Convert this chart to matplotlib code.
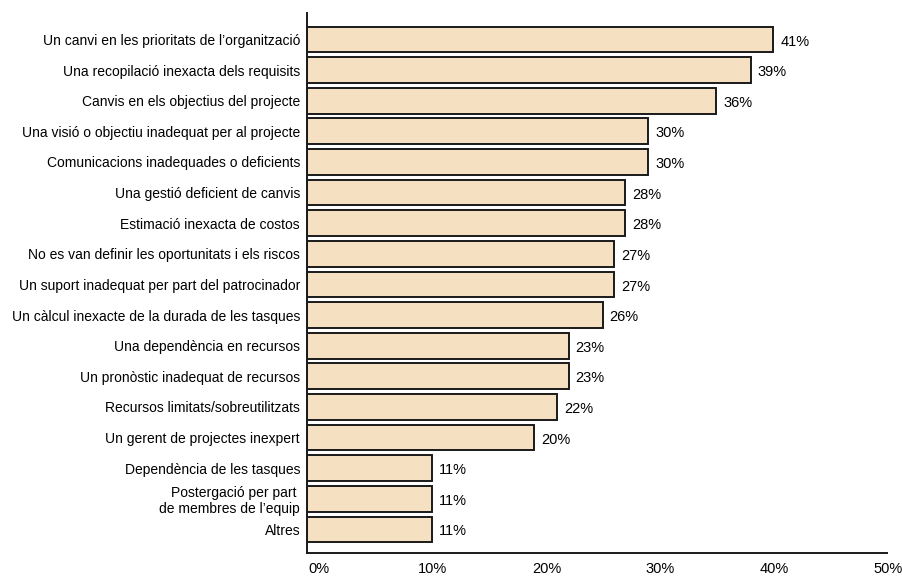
import matplotlib
matplotlib.use("Agg")
import matplotlib.pyplot as plt
import matplotlib.transforms as mtransforms

plt.rcParams['font.family'] = ['Liberation Sans', 'DejaVu Sans']

causes = [
    "Un canvi en les prioritats de l’organització",
    "Una recopilació inexacta dels requisits",
    "Canvis en els objectius del projecte",
    "Una visió o objectiu inadequat per al projecte",
    "Comunicacions inadequades o deficients",
    "Una gestió deficient de canvis",
    "Estimació inexacta de costos",
    "No es van definir les oportunitats i els riscos",
    "Un suport inadequat per part del patrocinador",
    "Un càlcul inexacte de la durada de les tasques",
    "Una dependència en recursos",
    "Un pronòstic inadequat de recursos",
    "Recursos limitats/sobreutilitzats",
    "Un gerent de projectes inexpert",
    "Dependència de les tasques",
    "Postergació per part \nde membres de l’equip",
    "Altres",
]
pct = [41, 39, 36, 30, 30, 28, 28, 27, 27, 26, 23, 23, 22, 20, 11, 11, 11]
xticks = [0, 10, 20, 30, 40, 50]

fig = plt.figure(figsize=(9.02, 5.76), dpi=100)
ax = fig.add_axes([0.3404, 0.0405, 0.643, 0.9375])

pos = list(range(len(causes)))
ax.barh(pos, pct, height=0.84, color="#F5E1C1", edgecolor="#1a1a1a", linewidth=1.4)

for y, v in zip(pos, pct):
    ax.annotate(f"{v}%", (v, y), xytext=(5, -1.5), textcoords="offset points",
                va="center", ha="left", fontsize=10.5)

ax.set_yticks(pos)
ax.set_yticklabels(causes, fontsize=10)
ax.set_ylim(16.76, -0.876)
ax.set_xlim(0, 51)
ax.set_xticks(xticks)
ax.set_xticklabels([f"{t}%" for t in xticks], fontsize=10.5)
ax.tick_params(axis="both", length=0)
ax.tick_params(axis="y", pad=5)
ax.tick_params(axis="x", pad=7)

# nudge the percent labels to the right a little
shift = mtransforms.ScaledTranslation(0.12, 0, fig.dpi_scale_trans)
for lbl in ax.get_xticklabels():
    lbl.set_transform(lbl.get_transform() + shift)

for side in ("top", "right"):
    ax.spines[side].set_visible(False)
for side in ("left", "bottom"):
    ax.spines[side].set_linewidth(1.4)
    ax.spines[side].set_color("#1a1a1a")

fig.savefig("out.png", dpi=100)
